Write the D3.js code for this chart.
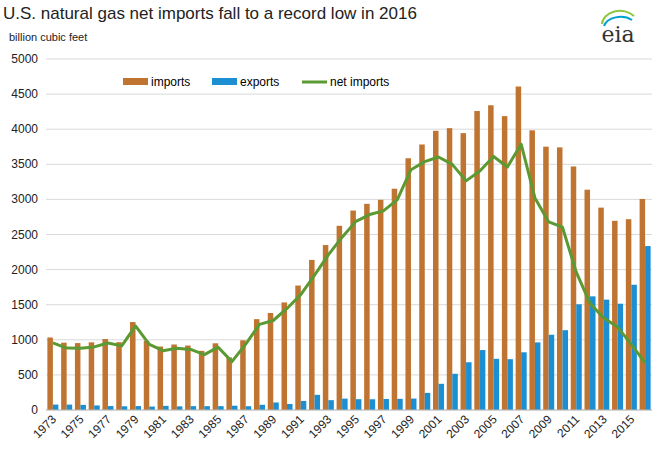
<!DOCTYPE html>
<html><head><meta charset="utf-8">
<script src="https://cdn.jsdelivr.net/npm/d3@7"></script>
<style>body{margin:0;background:#fff;font-family:Arial,"Liberation Sans",sans-serif;}</style>
</head><body><div id="chart"></div>
<script>
var years = d3.range(1973, 2017);
var imports = [1033,959,953,964,1011,966,1253,985,904,933,918,843,950,750,993,1294,1382,1532,1773,2138,2350,2624,2841,2937,2994,3152,3586,3782,3977,4015,3944,4259,4341,4186,4608,3984,3751,3741,3469,3138,2883,2695,2718,3006];
var exports = [77,77,73,65,56,53,56,49,59,52,55,55,55,61,54,74,107,86,129,216,140,162,154,153,157,159,163,244,373,516,680,854,729,724,822,963,1072,1137,1506,1619,1572,1514,1784,2335];
var netImports = [956,882,880,899,955,913,1197,936,845,881,863,788,895,689,939,1220,1275,1446,1644,1922,2210,2462,2687,2784,2837,2993,3423,3538,3604,3499,3264,3405,3612,3462,3786,3021,2679,2604,1963,1519,1311,1181,934,671];
var yTicks = [0,500,1000,1500,2000,2500,3000,3500,4000,4500,5000];

var W = 656, H = 452;
var m = {top: 59, left: 46, right: 4, bottom: 42};
var svg = d3.select("#chart").append("svg").attr("width", W).attr("height", H);
var g = svg.append("g").attr("transform", "translate(" + m.left + "," + m.top + ")");
var w = W - m.left - m.right, h = H - m.top - m.bottom;

var x = d3.scaleBand().domain(years).range([0, w]).paddingInner(0.2).paddingOuter(0.1);
var y = d3.scaleLinear().domain([0, 5000]).range([h, 0]);

// gridlines
g.selectAll(".grid").data(yTicks).enter().append("line")
  .attr("x1", 0).attr("x2", w).attr("y1", d => y(d)).attr("y2", d => y(d))
  .attr("stroke", "#d9d9d9").attr("stroke-width", 1);

// y labels
g.selectAll(".yl").data(yTicks).enter().append("text")
  .attr("x", -8).attr("y", d => y(d) + 4).attr("text-anchor", "end")
  .attr("font-size", 12).attr("fill", "#222").text(d => d);

var bw = x.bandwidth() / 2;
g.selectAll(".imp").data(years).enter().append("rect")
  .attr("x", (d) => x(d)).attr("width", bw)
  .attr("y", (d, i) => y(imports[i])).attr("height", (d, i) => h - y(imports[i]))
  .attr("fill", "#bf7431");
g.selectAll(".exp").data(years).enter().append("rect")
  .attr("x", (d) => x(d) + bw).attr("width", bw)
  .attr("y", (d, i) => y(exports[i])).attr("height", (d, i) => h - y(exports[i]))
  .attr("fill", "#1b8fd2");

// axis line
g.append("line").attr("x1", 0).attr("x2", w).attr("y1", h).attr("y2", h).attr("stroke", "#bbb");

var line = d3.line().x((d, i) => x(years[i]) + x.bandwidth() / 2).y(d => y(d));
g.append("path").datum(netImports).attr("d", line)
  .attr("fill", "none").attr("stroke", "#5b9a32").attr("stroke-width", 3).attr("stroke-linejoin", "round");

// x labels, every other year
g.selectAll(".xl").data(years.filter((d, i) => i % 2 == 0)).enter().append("text")
  .attr("transform", d => "translate(" + (x(d) + x.bandwidth() / 2 + 4) + "," + (h + 10) + ") rotate(-45)")
  .attr("text-anchor", "end").attr("font-size", 12).attr("fill", "#222").text(d => d);

// legend
var lg = svg.append("g").attr("transform", "translate(123,82)");
lg.append("rect").attr("x", 0).attr("y", -4).attr("width", 25).attr("height", 7).attr("fill", "#bf7431");
lg.append("text").attr("x", 28).attr("y", 4).attr("font-size", 12).text("imports");
lg.append("rect").attr("x", 89).attr("y", -4).attr("width", 25).attr("height", 7).attr("fill", "#1b8fd2");
lg.append("text").attr("x", 117).attr("y", 4).attr("font-size", 12).text("exports");
lg.append("line").attr("x1", 179).attr("x2", 204).attr("y1", 0).attr("y2", 0).attr("stroke", "#5b9a32").attr("stroke-width", 3);
lg.append("text").attr("x", 207).attr("y", 4).attr("font-size", 12).text("net imports");

// titles
svg.append("text").attr("x", 3).attr("y", 19).attr("font-size", 17).attr("fill", "#222")
  .text("U.S. natural gas net imports fall to a record low in 2016");
svg.append("text").attr("x", 9).attr("y", 41).attr("font-size", 11).attr("fill", "#222").text("billion cubic feet");

// eia logo
var logo = svg.append("g").attr("transform", "translate(620,22)");
logo.append("path").attr("d", "M-18,2 A18,14 0 0 1 14,-6").attr("fill", "none").attr("stroke", "#8dc63f").attr("stroke-width", 2);
logo.append("path").attr("d", "M-16,4 A17,12 0 0 1 12,-2").attr("fill", "none").attr("stroke", "#00a0d0").attr("stroke-width", 2);
logo.append("text").attr("x", -2).attr("y", 20).attr("text-anchor", "middle").attr("font-size", 22)
  .attr("font-family", "Georgia,'DejaVu Serif',serif").attr("fill", "#333").text("eia");
</script></body></html>
